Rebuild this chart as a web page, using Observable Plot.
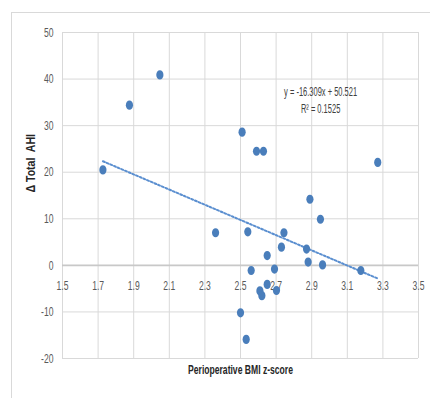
<!DOCTYPE html>
<html>
<head>
<meta charset="utf-8">
<script src="https://cdn.jsdelivr.net/npm/d3@7"></script>
<script src="https://cdn.jsdelivr.net/npm/@observablehq/plot@0.6"></script>
<style>
  html, body { margin: 0; padding: 0; background: #fff; }
  #wrap { position: relative; width: 430px; height: 398px; overflow: hidden; }
  #border { position: absolute; left: 11px; top: 12px; width: 440px; height: 400px;
            border-left: 1px solid #d9d9d9; border-top: 1px solid #d9d9d9; box-sizing: border-box; }
  #chart { position: absolute; left: 0; top: 0; }
</style>
</head>
<body>
<div id="wrap"><div id="border"></div><div id="chart"></div></div>
<script>
// Perioperative BMI z-score
const bmiZ = [1.727, 1.876, 2.047, 2.509, 2.590, 2.629, 3.271, 2.890, 2.949, 2.360, 2.541, 2.744, 2.730,
              2.650, 2.871, 2.880, 2.961, 2.560, 2.691, 2.650, 2.609, 2.620, 2.702, 2.500, 2.532, 3.176];
// Δ Total AHI
const deltaAHI = [20.5, 34.4, 40.9, 28.6, 24.5, 24.5, 22.1, 14.2, 9.9, 7.0, 7.2, 7.0, 3.9,
                  2.1, 3.5, 0.7, 0.1, -1.1, -0.8, -4.1, -5.5, -6.5, -5.4, -10.2, -15.9, -1.1];
const xTicks = [1.5, 1.7, 1.9, 2.1, 2.3, 2.5, 2.7, 2.9, 3.1, 3.3, 3.5];
const yTicks = [-20, -10, 0, 10, 20, 30, 40, 50];
const trendSlope = -16.309;
const trendIntercept = 50.521;
const eqLines = ["y = -16.309x + 50.521", "R² = 0.1525"];
const yTitle = "Δ Total  AHI";
const xTitle = "Perioperative BMI z-score";

const points = bmiZ.map((x, i) => ({x, y: deltaAHI[i]}));
const xMin = d3.min(bmiZ), xMax = d3.max(bmiZ);
const trend = [xMin, xMax].map(x => ({x, y: trendSlope * x + trendIntercept}));

const font = '"Liberation Sans", Arial, sans-serif';

// slightly tall elliptical marker (as in the original, which is horizontally squeezed)
const ellipse = {
  draw(ctx, size) {
    const rx = 3.6, ry = 4.6, k = 0.5523;
    ctx.moveTo(rx, 0);
    ctx.bezierCurveTo(rx, ry * k, rx * k, ry, 0, ry);
    ctx.bezierCurveTo(-rx * k, ry, -rx, ry * k, -rx, 0);
    ctx.bezierCurveTo(-rx, -ry * k, -rx * k, -ry, 0, -ry);
    ctx.bezierCurveTo(rx * k, -ry, rx, -ry * k, rx, 0);
    ctx.closePath();
  }
};

const chart = Plot.plot({
  width: 430,
  height: 398,
  marginLeft: 62,
  marginRight: 12,
  marginTop: 32,
  marginBottom: 40,
  style: {fontFamily: font, background: "transparent", overflow: "visible"},
  x: {domain: [1.5, 3.5]},
  y: {domain: [-20, 50]},
  marks: [
    Plot.ruleX(xTicks, {stroke: "#d9d9d9", strokeWidth: 1}),
    Plot.ruleY(yTicks.filter(d => d !== 0), {stroke: "#d9d9d9", strokeWidth: 1}),
    Plot.ruleY([0], {stroke: "#c8c8c8", strokeWidth: 1.8}),
    Plot.axisY({ticks: yTicks, tickSize: 0, tickPadding: 9, label: null, fill: "#595959", fontSize: 13, tickFormat: d => String(d).replace("−", "-")}),
    Plot.axisX({ticks: [], label: null, tickSize: 0}),
    Plot.text(xTicks, {x: d => d, y: 0, dy: 20, text: d => d.toFixed(1), fill: "#595959", fontSize: 13}),
    Plot.line(trend, {x: "x", y: "y", stroke: "#5b8fd0", strokeWidth: 2, strokeDasharray: "2,2"}),
    Plot.dot(points, {x: "x", y: "y", symbol: ellipse, r: 4, fill: "#4a7ebb", stroke: "none"}),
    Plot.text([eqLines[0]], {x: 2.95, y: 37.3, text: d => d, fill: "#404040", fontSize: 12.5}),
    Plot.text([eqLines[1]], {x: 2.95, y: 33.6, text: d => d, fill: "#404040", fontSize: 12.5}),
    Plot.text([yTitle], {frameAnchor: "left", dx: -32, dy: -3, rotate: -90, text: d => d, fill: "#262626", fontWeight: "bold", fontSize: 13.5}),
    Plot.text([xTitle], {frameAnchor: "bottom", dy: 15, text: d => d, fill: "#262626", fontWeight: "bold", fontSize: 13})
  ]
});
document.getElementById("chart").appendChild(chart);

// condense labels horizontally, like the narrow (Calibri-like) face of the original
const squeeze = t => eqLines.includes(t) ? 0.6 : t === yTitle ? 0.78 : t === xTitle ? 0.66 : 0.66;
d3.select(chart).selectAll("text").each(function () {
  const el = this;
  const targets = el.querySelectorAll("tspan").length ? Array.from(el.querySelectorAll("tspan")) : [el];
  targets.forEach(t => {
    const w = t.getComputedTextLength();
    if (w > 0) {
      t.setAttribute("textLength", (w * squeeze(t.textContent)).toFixed(2));
      t.setAttribute("lengthAdjust", "spacingAndGlyphs");
    }
  });
});
</script>
</body>
</html>
